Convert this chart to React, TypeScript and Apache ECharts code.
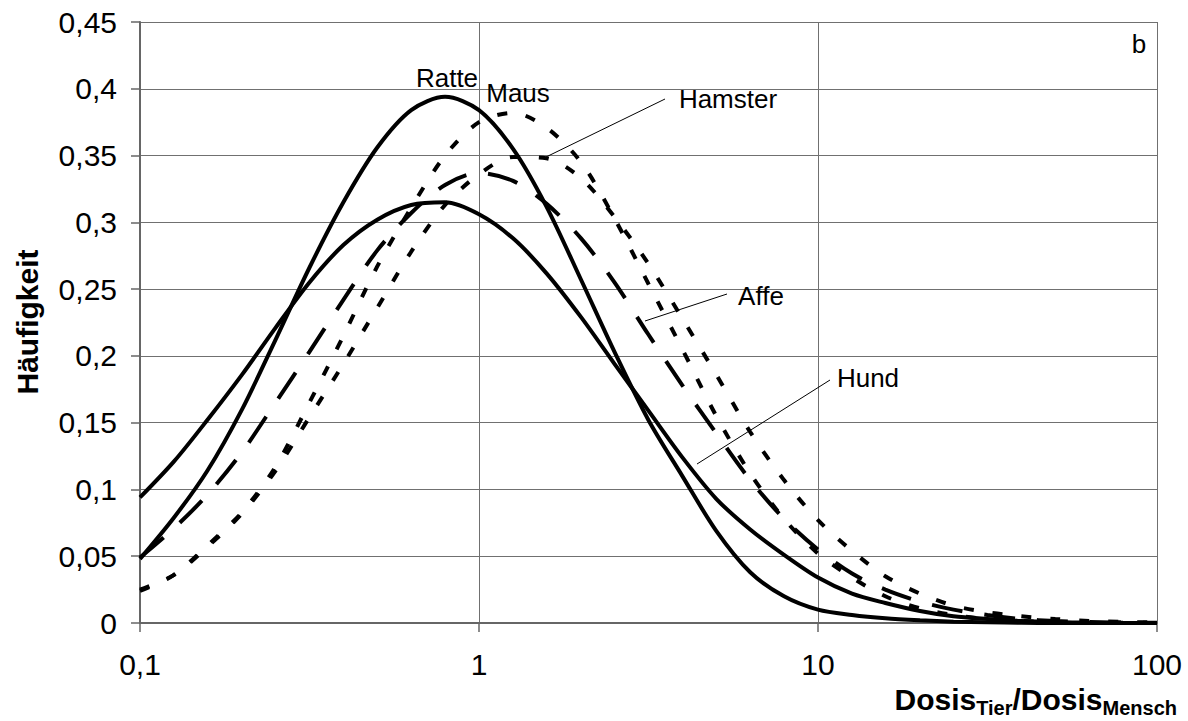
import React, { useEffect, useRef } from 'react';
import * as echarts from 'echarts';

// Dose ratio (animal / human) sample positions, log axis
const xValues = [0.1, 0.126, 0.158, 0.2, 0.251, 0.316, 0.398, 0.501, 0.631, 0.794, 1, 1.26, 1.58, 2, 2.51, 3.16, 3.98, 5.01, 6.31, 7.94, 10, 12.6, 15.8, 20, 25.1, 31.6, 39.8, 50.1, 63.1, 79.4, 100];

// Frequencies
const ratte = [0.048, 0.079, 0.114, 0.160, 0.212, 0.266, 0.315, 0.356, 0.384, 0.394, 0.384, 0.355, 0.312, 0.257, 0.203, 0.152, 0.110, 0.069, 0.038, 0.020, 0.010, 0.006, 0.0035, 0.002, 0.001, 0.0005, 0.0002, 0, 0, 0, 0];
const hund = [0.094, 0.121, 0.152, 0.186, 0.221, 0.255, 0.283, 0.302, 0.313, 0.315, 0.306, 0.288, 0.262, 0.229, 0.194, 0.159, 0.124, 0.093, 0.070, 0.051, 0.034, 0.022, 0.015, 0.009, 0.005, 0.003, 0.0015, 0.0007, 0.0003, 0.0001, 0];
const affe = [0.049, 0.071, 0.096, 0.128, 0.165, 0.203, 0.242, 0.279, 0.307, 0.328, 0.337, 0.331, 0.314, 0.288, 0.255, 0.216, 0.178, 0.142, 0.107, 0.078, 0.055, 0.037, 0.025, 0.016, 0.010, 0.006, 0.003, 0.0015, 0.0007, 0.0003, 0.0001];
const maus = [0.024, 0.036, 0.058, 0.083, 0.117, 0.165, 0.215, 0.267, 0.311, 0.350, 0.375, 0.382, 0.371, 0.345, 0.303, 0.254, 0.205, 0.155, 0.112, 0.078, 0.052, 0.034, 0.020, 0.011, 0.006, 0.003, 0.0015, 0.0006, 0.0002, 0.0001, 0];
const hamster = [0.025, 0.036, 0.057, 0.082, 0.114, 0.154, 0.194, 0.236, 0.278, 0.313, 0.336, 0.349, 0.348, 0.333, 0.304, 0.269, 0.228, 0.186, 0.143, 0.107, 0.077, 0.054, 0.035, 0.022, 0.013, 0.008, 0.005, 0.003, 0.0015, 0.0008, 0.0004];

const seriesNames = ['Ratte', 'Hund', 'Affe', 'Maus', 'Hamster'];
const yTitle = 'Häufigkeit';

const FONT = '"Liberation Sans", Arial, Helvetica, sans-serif';

export default function App() {
  const ref = useRef<HTMLDivElement>(null);

  useEffect(() => {
    const chart = echarts.init(ref.current!, null, { renderer: 'svg' });
    const fmt = (v: number) => String(+Number(v).toPrecision(6)).replace('.', ',');
    const mk = (name: string, vals: number[], type: any, z: number) => ({
      name,
      type: 'line',
      data: xValues.map((x, i) => [x, vals[i]]),
      symbol: 'none',
      smooth: 0.3,
      clip: true,
      z,
      lineStyle: { color: '#000', width: 4, type, cap: 'butt' },
    });

    const labelStyle = (text: string) => ({
      text,
      fill: '#000',
      fontSize: 26,
      fontFamily: FONT,
      align: 'center',
      verticalAlign: 'middle',
    });

    chart.setOption({
      animation: false,
      backgroundColor: '#fff',
      grid: { left: 140, right: 31, top: 22, bottom: 98, containLabel: false },
      xAxis: {
        type: 'log',
        logBase: 10,
        min: 0.1,
        max: 100,
        axisLine: { show: true, lineStyle: { color: '#666', width: 2 } },
        axisTick: { show: true, length: 9, lineStyle: { color: '#666', width: 1.5 } },
        minorTick: { show: false },
        axisLabel: { formatter: fmt, fontSize: 30, color: '#000', margin: 26, fontFamily: FONT },
        splitLine: { show: true, lineStyle: { color: '#707070', width: 1 } },
      },
      yAxis: {
        type: 'value',
        min: 0,
        max: 0.45,
        interval: 0.05,
        axisLine: { show: true, lineStyle: { color: '#666', width: 2 } },
        axisTick: { show: true, length: 9, lineStyle: { color: '#666', width: 1.5 } },
        axisLabel: { formatter: fmt, fontSize: 30, color: '#000', margin: 23, fontFamily: FONT },
        splitLine: { show: true, lineStyle: { color: '#707070', width: 1 } },
      },
      series: [
        mk(seriesNames[3], maus, [10, 19], 3),
        mk(seriesNames[4], hamster, [10, 19], 3),
        mk(seriesNames[2], affe, [31, 22], 4),
        mk(seriesNames[1], hund, 'solid', 5),
        mk(seriesNames[0], ratte, 'solid', 5),
      ],
      graphic: [
        { type: 'text', x: 447, y: 78, style: labelStyle('Ratte'), z: 10 },
        { type: 'text', x: 518, y: 93, style: labelStyle('Maus'), z: 10 },
        { type: 'text', x: 728, y: 99, style: labelStyle('Hamster'), z: 10 },
        { type: 'text', x: 761, y: 296, style: labelStyle('Affe'), z: 10 },
        { type: 'text', x: 868, y: 378, style: labelStyle('Hund'), z: 10 },
        { type: 'text', x: 1139, y: 44, style: labelStyle('b'), z: 10 },
        { type: 'line', shape: { x1: 665, y1: 99, x2: 546, y2: 157 }, style: { stroke: '#000', lineWidth: 1 }, z: 10 },
        { type: 'line', shape: { x1: 727, y1: 294, x2: 645, y2: 321 }, style: { stroke: '#000', lineWidth: 1 }, z: 10 },
        { type: 'line', shape: { x1: 830, y1: 380, x2: 697, y2: 464 }, style: { stroke: '#000', lineWidth: 1 }, z: 10 },
        {
          type: 'text',
          x: 27,
          y: 322,
          rotation: Math.PI / 2,
          style: {
            text: yTitle,
            fill: '#000',
            fontSize: 30,
            fontWeight: 'bold',
            fontFamily: FONT,
            align: 'center',
            verticalAlign: 'middle',
          },
          z: 10,
        },
        {
          type: 'text',
          x: 1177,
          y: 684,
          style: {
            text: '{a|Dosis}{s|Tier}{a|/Dosis}{s|Mensch}',
            align: 'right',
            verticalAlign: 'top',
            fill: '#000',
            fontFamily: FONT,
            rich: {
              a: { fontSize: 30, fontWeight: 'bold', fontFamily: FONT, fill: '#000', lineHeight: 34, verticalAlign: 'top' },
              s: { fontSize: 20, fontWeight: 'bold', fontFamily: FONT, fill: '#000', lineHeight: 20, padding: [8, 0, 0, 0], verticalAlign: 'bottom' },
            },
          },
          z: 10,
        },
      ],
    });
    return () => chart.dispose();
  }, []);

  return (
    <div
      ref={ref}
      style={{ position: 'fixed', left: 0, top: 0, width: 1188, height: 721, background: '#fff' }}
    />
  );
}
